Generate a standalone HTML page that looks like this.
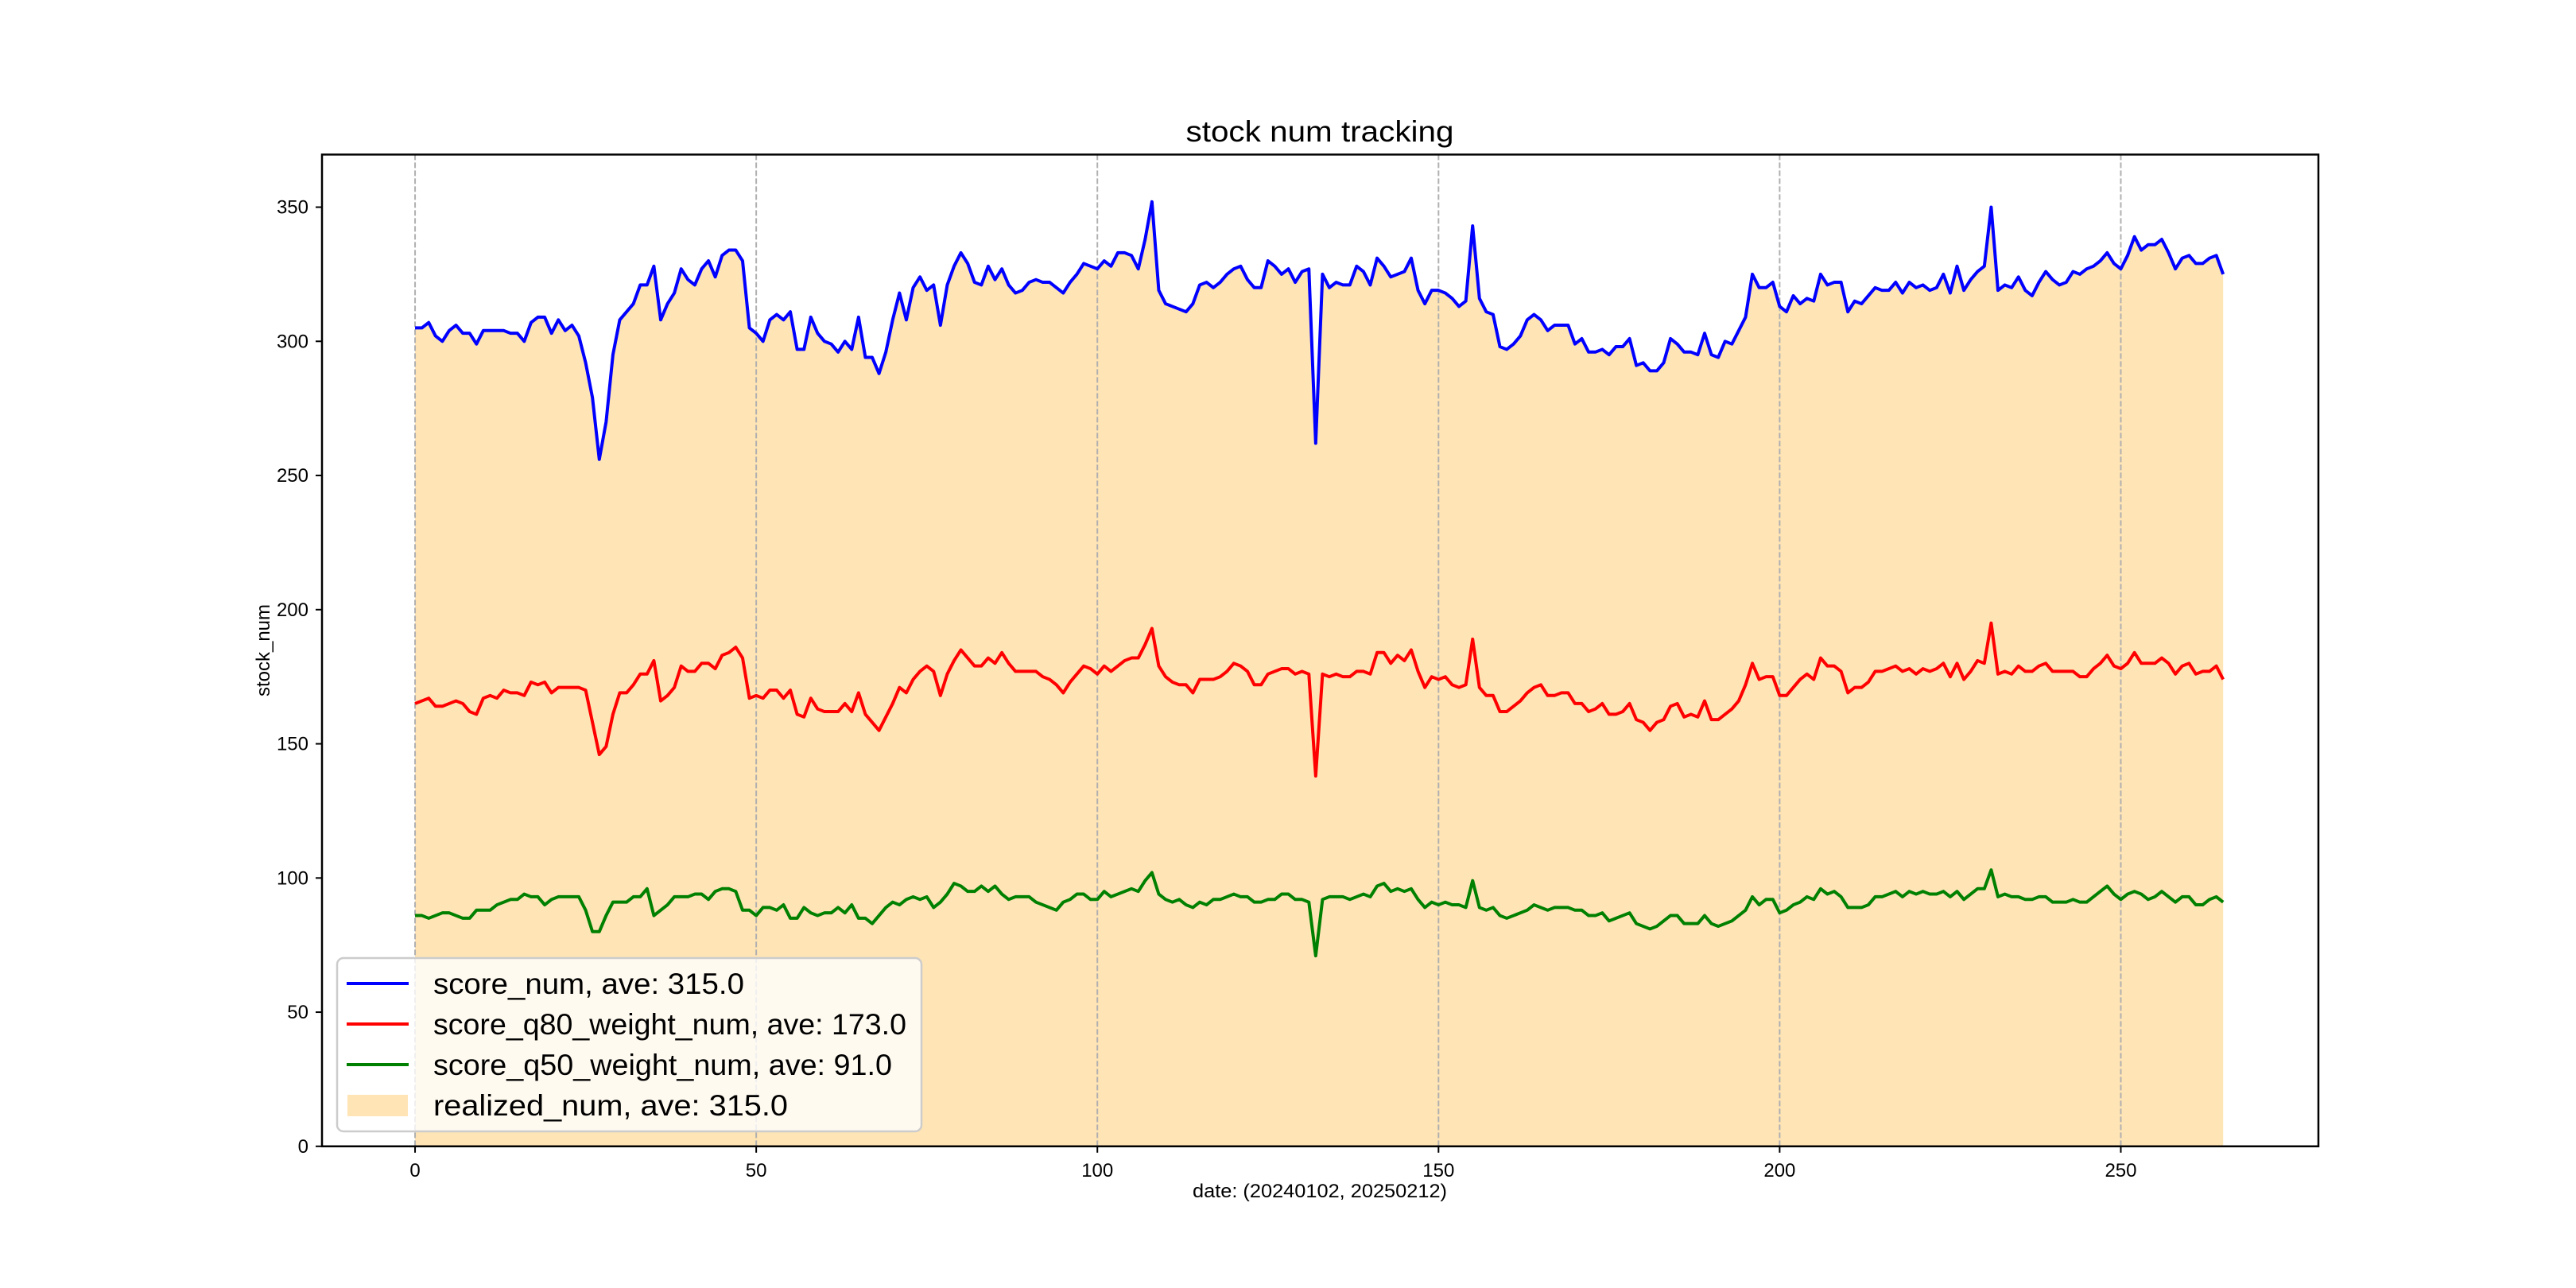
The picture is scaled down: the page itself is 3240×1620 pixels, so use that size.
<!DOCTYPE html>
<html><head><meta charset="utf-8"><style>
html,body{margin:0;padding:0;background:#fff;}
svg{display:block;font-family:"WenQuanYi Zen Hei","Liberation Sans",sans-serif;}
</style></head><body>
<svg id="chart" width="3240" height="1620" viewBox="0 0 3240 1620" xmlns="http://www.w3.org/2000/svg">
<rect width="3240" height="1620" fill="#fff"/>
<text x="1660" y="178" font-size="37" text-anchor="middle" fill="#000" textLength="337" lengthAdjust="spacingAndGlyphs">stock num tracking</text>
<g id="plot"></g>
<text x="1660" y="1506" font-size="24" text-anchor="middle" fill="#000" textLength="320" lengthAdjust="spacingAndGlyphs">date: (20240102, 20250212)</text>
<text x="0" y="0" font-size="24" text-anchor="middle" fill="#000" transform="translate(339,818) rotate(-90)">stock_num</text>
</svg>
<script>
const scoreNum=[305,305,307,302,300,304,306,303,303,299,304,304,304,304,303,303,300,307,309,309,303,308,304,306,302,292,279,256,270,295,308,311,314,321,321,328,308,314,318,327,323,321,327,330,324,332,334,334,330,305,303,300,308,310,308,311,297,297,309,303,300,299,296,300,297,309,294,294,288,296,308,318,308,320,324,319,321,306,321,328,333,329,322,321,328,323,327,321,318,319,322,323,322,322,320,318,322,325,329,328,327,330,328,333,333,332,327,338,352,319,314,313,312,311,314,321,322,320,322,325,327,328,323,320,320,330,328,325,327,322,326,327,262,325,320,322,321,321,328,326,321,331,328,324,325,326,331,319,314,319,319,318,316,313,315,343,316,311,310,298,297,299,302,308,310,308,304,306,306,306,299,301,296,296,297,295,298,298,301,291,292,289,289,292,301,299,296,296,295,303,295,294,300,299,304,309,325,320,320,322,313,311,317,314,316,315,325,321,322,322,311,315,314,317,320,319,319,322,318,322,320,321,319,320,325,318,328,319,323,326,328,350,319,321,320,324,319,317,322,326,323,321,322,326,325,327,328,330,333,329,327,332,339,334,336,336,338,333,327,331,332,329,329,331,332,325];
const q80Num=[165,166,167,164,164,165,166,165,162,161,167,168,167,170,169,169,168,173,172,173,169,171,171,171,171,170,158,146,149,161,169,169,172,176,176,181,166,168,171,179,177,177,180,180,178,183,184,186,182,167,168,167,170,170,167,170,161,160,167,163,162,162,162,165,162,169,161,158,155,160,165,171,169,174,177,179,177,168,176,181,185,182,179,179,182,180,184,180,177,177,177,177,175,174,172,169,173,176,179,178,176,179,177,179,181,182,182,187,193,179,175,173,172,172,169,174,174,174,175,177,180,179,177,172,172,176,177,178,178,176,177,176,138,176,175,176,175,175,177,177,176,184,184,180,183,181,185,177,171,175,174,175,172,171,172,189,171,168,168,162,162,164,166,169,171,172,168,168,169,169,165,165,162,163,165,161,161,162,165,159,158,155,158,159,164,165,160,161,160,166,159,159,161,163,166,172,180,174,175,175,168,168,171,174,176,174,182,179,179,177,169,171,171,173,177,177,178,179,177,178,176,178,177,178,180,175,180,174,177,181,180,195,176,177,176,179,177,177,179,180,177,177,177,177,175,175,178,180,183,179,178,180,184,180,180,180,182,180,176,179,180,176,177,177,179,174];
const q50Num=[86,86,85,86,87,87,86,85,85,88,88,88,90,91,92,92,94,93,93,90,92,93,93,93,93,88,80,80,86,91,91,91,93,93,96,86,88,90,93,93,93,94,94,92,95,96,96,95,88,88,86,89,89,88,90,85,85,89,87,86,87,87,89,87,90,85,85,83,86,89,91,90,92,93,92,93,89,91,94,98,97,95,95,97,95,97,94,92,93,93,93,91,90,89,88,91,92,94,94,92,92,95,93,94,95,96,95,99,102,94,92,91,92,90,89,91,90,92,92,93,94,93,93,91,91,92,92,94,94,92,92,91,71,92,93,93,93,92,93,94,93,97,98,95,96,95,96,92,89,91,90,91,90,90,89,99,89,88,89,86,85,86,87,88,90,89,88,89,89,89,88,88,86,86,87,84,85,86,87,83,82,81,82,84,86,86,83,83,83,86,83,82,83,84,86,88,93,90,92,92,87,88,90,91,93,92,96,94,95,93,89,89,89,90,93,93,94,95,93,95,94,95,94,94,95,93,95,92,94,96,96,103,93,94,93,93,92,92,93,93,91,91,91,92,91,91,93,95,97,94,92,94,95,94,92,93,95,93,91,93,93,90,90,92,93,91];
const xTicks=[0,50,100,150,200,250];
const yTicks=[0,50,100,150,200,250,300,350];
const legendLabels=["score_num, ave: 315.0","score_q80_weight_num, ave: 173.0","score_q50_weight_num, ave: 91.0","realized_num, ave: 315.0"];

const NS="http://www.w3.org/2000/svg";
const L=405,R=2916,T=194.4,B=1441.8;
const xMin=-13.64,xMax=278.96,yMin=0,yMax=369.6;
const X=v=>L+(v-xMin)/(xMax-xMin)*(R-L);
const Y=v=>B-(v-yMin)/(yMax-yMin)*(B-T);
const plot=document.getElementById('plot');
function mk(tag,attrs,parent){const e=document.createElementNS(NS,tag);for(const k in attrs)e.setAttribute(k,attrs[k]);(parent||plot).appendChild(e);return e;}

let d=`M${X(0)},${Y(0)}`;
scoreNum.forEach((v,i)=>{d+=` L${X(i)},${Y(v)}`;});
d+=` L${X(scoreNum.length-1)},${Y(0)} Z`;
const area=mk('path',{d:d,fill:'#ffe4b5',stroke:'none'});



xTicks.forEach(t=>{
  const g=mk('line',{x1:X(t),x2:X(t),y1:T,y2:B,stroke:'#b0b0b0','stroke-width':2,'stroke-dasharray':'7,3'});
  
  
});

function line(arr,color,name){
  const p=mk('polyline',{points:arr.map((v,i)=>X(i)+','+Y(v)).join(' '),fill:'none',stroke:color,'stroke-width':4,'stroke-linejoin':'round'});
  
  
}
line(scoreNum,'#0000ff','score-num-line');
line(q80Num,'#ff0000','score-q80-line');
line(q50Num,'#008000','score-q50-line');

const frame=mk('rect',{x:L,y:T,width:R-L,height:B-T,fill:'none',stroke:'#000','stroke-width':2.5});



xTicks.forEach(t=>{
  const tk=mk('line',{x1:X(t),x2:X(t),y1:B,y2:B+8,stroke:'#000','stroke-width':2});
  
  
  const tx=mk('text',{x:X(t),y:B+38,'font-size':24,'text-anchor':'middle',fill:'#000'});
  tx.textContent=t;
  
  
});
yTicks.forEach(t=>{
  const tk=mk('line',{x1:L-8,x2:L,y1:Y(t),y2:Y(t),stroke:'#000','stroke-width':2});
  
  
  const tx=mk('text',{x:L-17,y:Y(t)+8,'font-size':24,'text-anchor':'end',fill:'#000'});
  tx.textContent=t;
  
  
});

const lg=mk('g',{});


const box=mk('rect',{x:424,y:1205,width:735,height:218,rx:8,fill:'#ffffff','fill-opacity':0.8,stroke:'#cccccc','stroke-width':2.5},lg);


const colors=['#0000ff','#ff0000','#008000'];
const rowsY=[1237,1288,1339,1390];
legendLabels.forEach((lab,i)=>{
  if(i<3){
    const h=mk('line',{x1:436,x2:514,y1:rowsY[i],y2:rowsY[i],stroke:colors[i],'stroke-width':4},lg);
    
    
  } else {
    const h=mk('rect',{x:437,y:rowsY[i]-13,width:76,height:27,fill:'#ffe4b5'},lg);
    
    
  }
  const t=mk('text',{x:545,y:rowsY[i]+13,'font-size':37,fill:'#000',textLength:(lab.length*18.6).toFixed(0),lengthAdjust:'spacingAndGlyphs'},lg);
  t.textContent=lab;
  
  
});
</script>
</body></html>
